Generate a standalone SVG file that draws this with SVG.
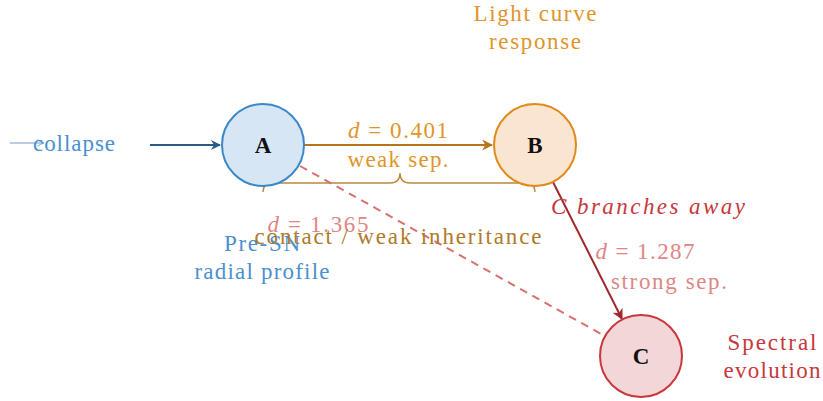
<svg xmlns="http://www.w3.org/2000/svg" width="823" height="401" viewBox="0 0 823 401">
<style>
text{font-family:"Liberation Serif","Times New Roman",serif;font-size:23px;text-anchor:middle}
.nl{font-weight:bold;font-size:23px;fill:#111}
.it{font-style:italic}
.blue{fill:#4a90d0}
.org{fill:#e0952a}
.tan{fill:#b07a2a}
.pink{fill:#e08585}
.red{fill:#c8373b}
</style>
<defs>
<marker id="ahBlue" viewBox="0 0 10 10" refX="9" refY="5" markerWidth="10" markerHeight="10" markerUnits="userSpaceOnUse" orient="auto"><path d="M0,0 L10,5 L0,10 L3,5 Z" fill="#2a5a8a"/></marker>
<marker id="ahOrg" viewBox="0 0 10 10" refX="9" refY="5" markerWidth="11" markerHeight="11" markerUnits="userSpaceOnUse" orient="auto"><path d="M0,0 L10,5 L0,10 L3,5 Z" fill="#b8741a"/></marker>
<marker id="ahRed" viewBox="0 0 10 10" refX="9" refY="5" markerWidth="11" markerHeight="11" markerUnits="userSpaceOnUse" orient="auto"><path d="M0,0 L10,5 L0,10 L3,5 Z" fill="#a0282c"/></marker>
<marker id="ahSmall" viewBox="0 0 10 10" refX="9" refY="5" markerWidth="8" markerHeight="8" markerUnits="userSpaceOnUse" orient="auto"><path d="M1,1 Q5,4 9,5 Q5,6 1,9" fill="none" stroke="#7a9cc0" stroke-width="1.2"/></marker>
</defs>
<g id="connectors">
<path d="M263,192 Q263,183 273,183 L390,183 Q400,183 400,173 Q400,183 410,183 L525,183 Q535,183 535,192" fill="none" stroke="#b88a3a" stroke-width="1.3"/>
<line x1="10" y1="143" x2="44" y2="143" stroke="#7a9cc0" stroke-width="1.2" marker-end="url(#ahSmall)"/>
<line x1="150" y1="145" x2="220" y2="145" stroke="#2a5a8a" stroke-width="2" marker-end="url(#ahBlue)"/>
<line x1="304" y1="145" x2="492" y2="145" stroke="#b8741a" stroke-width="2" marker-end="url(#ahOrg)"/>
<line x1="300" y1="166" x2="603" y2="335" stroke="#d87070" stroke-width="2" stroke-dasharray="8,6"/>
<line x1="553" y1="182" x2="622" y2="319" stroke="#a0282c" stroke-width="2" marker-end="url(#ahRed)"/>
</g>
<g id="A">
<circle cx="263" cy="145" r="41" fill="#d6e6f5" stroke="#3b87c8" stroke-width="2"/>
<text class="nl" x="263" y="153">A</text>
</g>
<g id="B">
<circle cx="535" cy="145" r="41" fill="#fae6d0" stroke="#e08a1e" stroke-width="2"/>
<text class="nl" x="535" y="153">B</text>
</g>
<g id="C">
<circle cx="641" cy="356" r="41" fill="#f3d6d8" stroke="#c8373b" stroke-width="2"/>
<text class="nl" x="641" y="364">C</text>
</g>
<g id="labels">
<text class="blue" x="74" y="151" textLength="82">collapse</text>
<text class="org" x="398" y="138" textLength="100"><tspan class="it">d</tspan> = 0.401</text>
<text class="org" x="398" y="167" textLength="101">weak sep.</text>
<text class="org" x="535" y="21" textLength="123">Light curve</text>
<text class="org" x="535" y="49" textLength="92">response</text>
<text class="pink" x="318" y="232" textLength="101"><tspan class="it">d</tspan> = 1.365</text>
<text class="blue" x="262" y="251" textLength="76">Pre-SN</text>
<text class="blue" x="262" y="279" textLength="135">radial profile</text>
<text class="tan" x="398" y="244" textLength="287">contact / weak inheritance</text>
<text class="red it" x="648" y="214" textLength="194">C branches away</text>
<text class="pink" x="645" y="259" textLength="99"><tspan class="it">d</tspan> = 1.287</text>
<text class="pink" x="669" y="289" textLength="116">strong sep.</text>
<text class="red" x="772" y="350" textLength="89">Spectral</text>
<text class="red" x="772" y="378" textLength="97">evolution</text>
</g>
</svg>
